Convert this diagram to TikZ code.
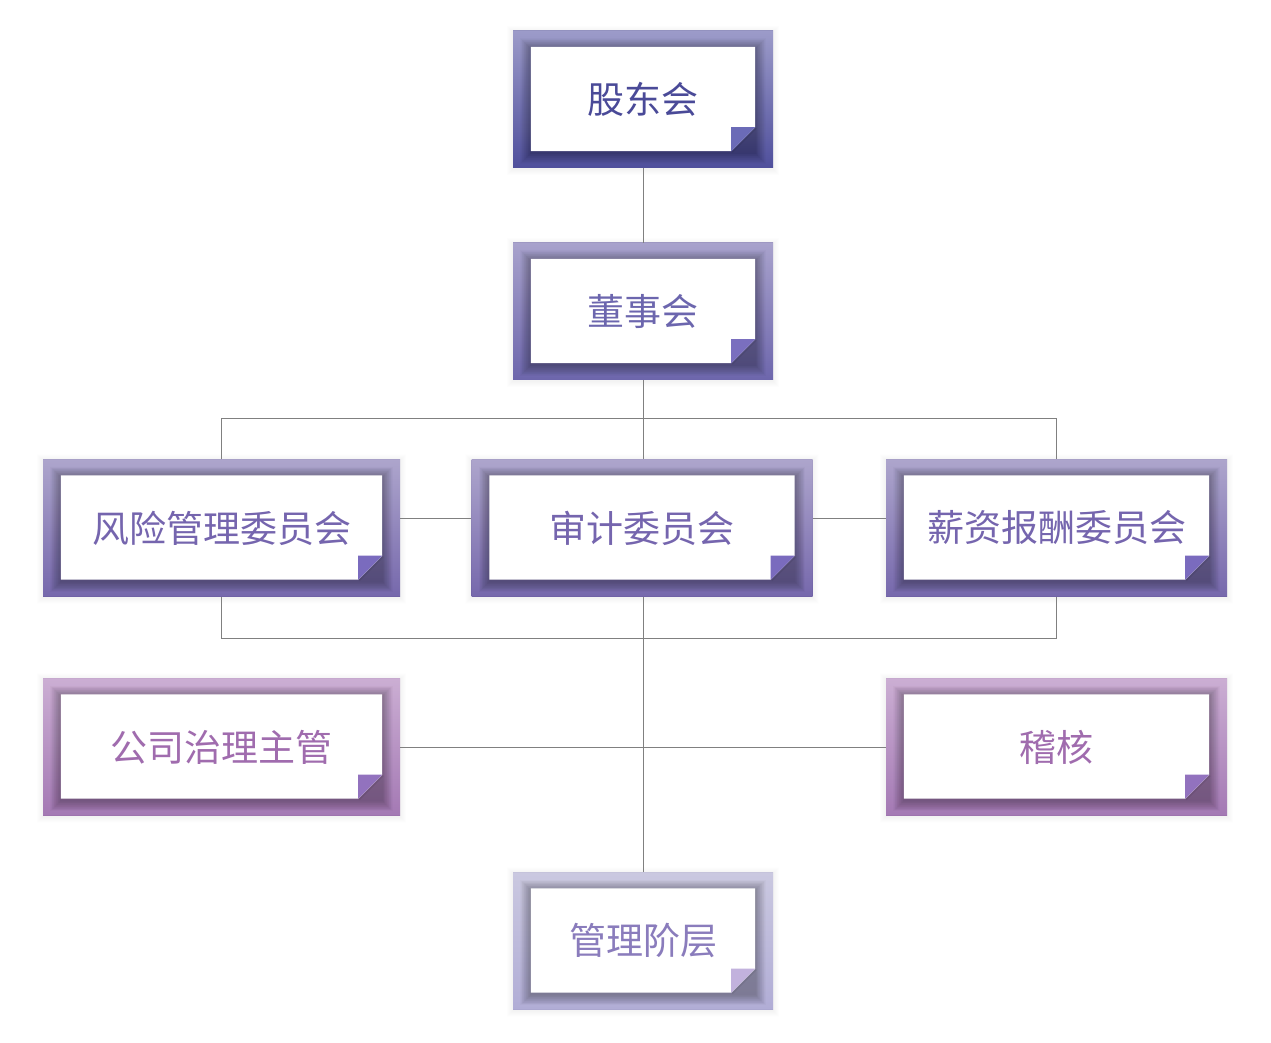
\documentclass[tikz,border=0pt]{standalone}
\usepackage{fontspec}
\setmainfont{Noto Sans CJK SC}
\usetikzlibrary{calc}

\definecolor{lvAtop}{HTML}{9C9BC9}
\definecolor{lvAdark}{HTML}{4F4F9C}
\definecolor{lvAfold}{HTML}{6B6BB7}
\definecolor{lvAtext}{HTML}{4A4A98}
\definecolor{lvBtop}{HTML}{A8A2CC}
\definecolor{lvBdark}{HTML}{6D66AC}
\definecolor{lvBfold}{HTML}{7A6FBF}
\definecolor{lvBtext}{HTML}{6C66AE}
\definecolor{lvCtop}{HTML}{ADA5CC}
\definecolor{lvCdark}{HTML}{7668AC}
\definecolor{lvCfold}{HTML}{7A6BBE}
\definecolor{lvCtext}{HTML}{7565AE}
\definecolor{lvDtop}{HTML}{CBAED3}
\definecolor{lvDdark}{HTML}{A479B4}
\definecolor{lvDfold}{HTML}{9272BE}
\definecolor{lvDtext}{HTML}{A06CAE}
\definecolor{lvEtop}{HTML}{CAC8E0}
\definecolor{lvEdark}{HTML}{B1ADD6}
\definecolor{lvEfold}{HTML}{C2B2DD}
\definecolor{lvEtext}{HTML}{8A7CBC}
\definecolor{linkgray}{HTML}{808080}

\tikzset{
  outerbox/.style={inner sep=0pt, minimum height=137pt},
  boxlabel/.style={font=\fontsize{37}{40}\selectfont},
  link/.style={draw=linkgray, line width=0.9pt}
}

\newcommand{\orgbox}[5]{%
  \node[outerbox, minimum width=#3, top color=lv#4top, bottom color=lv#4dark] (#1) at (#2) {};
  \foreach \s in {1,...,6}
    \fill[black, opacity=0.008, even odd rule] ($(#1.south west)+(-\s,-\s-1)$) rectangle ($(#1.north east)+(\s,\s-1)$)
      (#1.south west) rectangle (#1.north east);
  \coordinate (#1-sw) at ($(#1.south west)+(18,17)$);
  \coordinate (#1-ne) at ($(#1.north east)+(-18,-16)$);
  \foreach \s in {1,...,16}
    \fill[black, opacity=0.018] ($(#1-sw)+(-0.65*\s,-0.65*\s-2)$) rectangle ($(#1-ne)+(0.65*\s,0.65*\s-2)$);
  \fill[white] (#1-sw) -- (#1-sw |- #1-ne) -- (#1-ne) -- ($(#1-ne |- #1-sw)+(0,24)$)
    -- ($(#1-ne |- #1-sw)+(-24,0)$) -- cycle;
  \fill[lv#4fold] ($(#1-ne |- #1-sw)+(-24,0)$) -- ++(0,24) -- ++(24,0) -- cycle;
  \draw[black, opacity=0.07, line width=1.2pt] ($(#1-ne |- #1-sw)+(-23,-1)$) -- ++(24,24);
  \node[boxlabel, text=lv#4text] at (#1) {#5};
}

\begin{document}
\begin{tikzpicture}[x=1pt, y=1pt]
\useasboundingbox (0,0) rectangle (1271,1042);
\fill[white] (0,0) rectangle (1271,1042);

\coordinate (gdpos) at (643,942.5);
\coordinate (dspos) at (643,730.5);

\orgbox{gudong}{gdpos}{260pt}{A}{股东会}
\orgbox{dongshi}{dspos}{260pt}{B}{董事会}
\orgbox{fengxian}{221.5,514}{357pt}{C}{风险管理委员会}
\orgbox{shenji}{642,514}{341pt}{C}{审计委员会}
\orgbox{xinzi}{1056.5,514}{341pt}{C}{薪资报酬委员会}
\orgbox{zhili}{221.5,295}{357pt}{D}{公司治理主管}
\orgbox{jihe}{1056.5,295}{341pt}{D}{稽核}
\orgbox{guanli}{643,101}{260pt}{E}{管理阶层}

\coordinate (bustop) at (643,624);
\coordinate (busbot) at (643,404);

\draw[link] (gudong.south -| dongshi) -- (dongshi.north);
\draw[link] (dongshi.south) -- (shenji.north -| dongshi);
\draw[link] (fengxian.north) -- (fengxian.north |- bustop) -- (xinzi.north |- bustop) -- (xinzi.north);
\draw[link] ([yshift=10pt]fengxian.east) -- ([yshift=10pt]shenji.west);
\draw[link] ([yshift=10pt]shenji.east) -- ([yshift=10pt]xinzi.west);
\draw[link] (fengxian.south) -- (fengxian.south |- busbot) -- (xinzi.south |- busbot) -- (xinzi.south);
\draw[link] (shenji.south -| guanli) -- (guanli.north);
\draw[link] (zhili.east) -- (jihe.west);
\end{tikzpicture}
\end{document}
